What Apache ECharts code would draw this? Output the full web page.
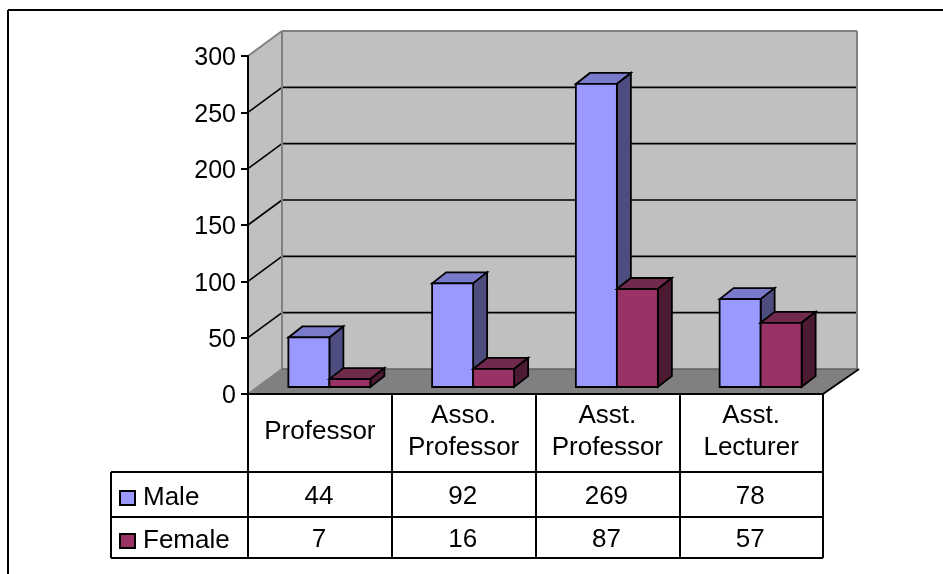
<!DOCTYPE html>
<html><head><meta charset="utf-8">
<style>html,body{margin:0;padding:0;background:#fff}#c{width:943px;height:574px}</style>
<script src="https://cdn.jsdelivr.net/npm/echarts@6/dist/echarts.min.js"></script>
</head><body><div id="c"></div>
<script>
const categories = ['Professor', 'Asso.\nProfessor', 'Asst.\nProfessor', 'Asst.\nLecturer'];
const male = [44, 92, 269, 78];
const female = [7, 16, 87, 57];
const yTicks = [0, 50, 100, 150, 200, 250, 300];

const FONT = '"Liberation Sans", Arial, sans-serif';
const FS = 26;
const BACK = [34, -25];      // wall depth
const FRONT = [9.5, -7];     // bar front-face offset from axis plane
const DEPTH = [14, -11];     // bar depth
const BW = 41;
const G = {left: 248, top: 56, width: 575, height: 338};
const TBL = {l: 111, r: 823, y0: 394, y1: 472, y2: 517, y3: 558};

function poly(points, fill, stroke, lw) {
  return {type: 'polygon', shape: {points}, style: {fill, stroke: stroke || 'none', lineWidth: lw === undefined ? 2 : lw, lineJoin: 'miter'}};
}
function seg(x1, y1, x2, y2, stroke, lw) {
  return {type: 'line', shape: {x1, y1, x2, y2}, style: {stroke, lineWidth: lw}};
}

function renderBackdrop(params, api) {
  const o = api.coord([0, 0]);
  const band = api.size([1, 0])[0];
  const x0 = o[0] - band / 2;
  const x1 = x0 + band * 4;
  const y0 = o[1];
  const yT = api.coord([0, 300])[1];
  const [dx, dy] = BACK;
  const kids = [];
  kids.push(poly([[x0, y0], [x0 + dx, y0 + dy], [x1 + dx, y0 + dy], [x1, y0]], '#808080'));
  kids.push(poly([[x0, yT], [x0 + dx, yT + dy], [x0 + dx, y0 + dy], [x0, y0]], '#C0C0C0'));
  kids.push(poly([[x0 + dx, yT + dy], [x1 + dx, yT + dy], [x1 + dx, y0 + dy], [x0 + dx, y0 + dy]], '#C0C0C0'));
  yTicks.forEach(t => {
    if (t === 0 || t === 300) return;
    const y = api.coord([0, t])[1];
    kids.push(seg(x0, y, x0 + dx, y + dy, '#000', 1.6));
    kids.push(seg(x0 + dx, y + dy, x1 + dx, y + dy, '#000', 1.6));
  });
  kids.push(seg(x0, yT, x0 + dx, yT + dy, '#808080', 2));
  kids.push(seg(x0 + dx, yT + dy, x1 + dx, yT + dy, '#808080', 2));
  kids.push(seg(x0 + dx, yT + dy, x0 + dx, y0 + dy, '#808080', 2));
  kids.push(seg(x1 + dx, yT + dy, x1 + dx, y0 + dy, '#808080', 2));
  kids.push(seg(x0 + dx, y0 + dy, x1 + dx, y0 + dy, '#606060', 1.6));
  kids.push(seg(x0, y0, x0 + dx, y0 + dy, '#808080', 1.6));
  kids.push(seg(x1, y0, x1 + dx + 2, y0 + dy, '#000', 2));
  return {type: 'group', children: kids};
}

function barRenderer(side, front, top, right) {
  return function (params, api) {
    const i = api.value(0), v = api.value(1);
    const c = api.coord([i, v]);
    const b = api.coord([i, 0]);
    const xl = c[0] + (side < 0 ? -BW : 0) + FRONT[0];
    const xr = xl + BW;
    const yt = c[1] + FRONT[1];
    const yb = b[1] + FRONT[1];
    const [dx, dy] = DEPTH;
    return {type: 'group', children: [
      poly([[xl, yt], [xl + dx, yt + dy], [xr + dx, yt + dy], [xr, yt]], top, '#000', 1.8),
      poly([[xr, yt], [xr + dx, yt + dy], [xr + dx, yb + dy], [xr, yb]], right, '#000', 1.8),
      poly([[xl, yt], [xr, yt], [xr, yb], [xl, yb]], front, '#000', 1.8)
    ]};
  };
}

function renderTable(params, api) {
  const i = api.value(0);
  const cx = api.coord([i, 0])[0] - 1;
  const txt = (s, y) => ({type: 'text', style: {text: String(s), x: cx, y, fill: '#000', font: FS + 'px ' + FONT, textAlign: 'center', textVerticalAlign: 'middle'}});
  return {type: 'group', children: [txt(male[i], (TBL.y1 + TBL.y2) / 2 + 2), txt(female[i], (TBL.y2 + TBL.y3) / 2 + 2)]};
}

const lines = [
  [8, 10, 943, 10], [8, 10, 8, 574],
  [TBL.l, TBL.y1, TBL.r, TBL.y1], [TBL.l, TBL.y2, TBL.r, TBL.y2], [TBL.l, TBL.y3, TBL.r, TBL.y3],
  [TBL.l, TBL.y1, TBL.l, TBL.y3], [G.left, TBL.y0, G.left, TBL.y3], [392, TBL.y0, 392, TBL.y3],
  [536, TBL.y0, 536, TBL.y3], [680, TBL.y0, 680, TBL.y3], [823, TBL.y0, 823, TBL.y3]
];

const chart = echarts.init(document.getElementById('c'), null, {renderer: 'canvas'});
chart.setOption({
  animation: false,
  backgroundColor: '#fff',
  textStyle: {fontFamily: FONT},
  grid: {left: G.left, top: G.top, width: G.width, height: G.height, containLabel: false},
  xAxis: {
    type: 'category', data: categories,
    axisLine: {show: true, onZero: false, lineStyle: {color: '#000', width: 2}},
    axisTick: {show: false},
    axisLabel: {interval: 0, color: '#000', fontSize: FS, fontFamily: FONT, lineHeight: 32, verticalAlign: 'middle', margin: 38, hideOverlap: false},
    splitLine: {show: false}, z: 5
  },
  yAxis: {
    type: 'value', min: 0, max: 300, interval: 50,
    axisLine: {show: true, lineStyle: {color: '#000', width: 2}},
    axisTick: {show: true, length: 7, lineStyle: {color: '#000', width: 2}},
    axisLabel: {
      color: '#000', fontSize: 25, fontFamily: FONT, margin: 12,
      formatter: v => '{a|' + v + '}',
      rich: {a: {color: '#000', fontSize: 25, fontFamily: FONT, padding: [5, 0, 0, 0]}}
    },
    splitLine: {show: false}, z: 5
  },
  legend: {
    show: true, orient: 'vertical', left: 119, top: 485, itemGap: 17,
    itemWidth: 15, itemHeight: 14, icon: 'rect', padding: 0,
    data: ['Male', 'Female'], selectedMode: false,
    textStyle: {color: '#000', fontSize: FS, fontFamily: FONT, padding: [2, 0, 0, 3]},
    itemStyle: {borderColor: '#000', borderWidth: 2}
  },
  graphic: lines.map(l => ({type: 'line', silent: true, z: 6, shape: {x1: l[0], y1: l[1], x2: l[2], y2: l[3]}, style: {stroke: '#000', lineWidth: 2}})),
  series: [
    {name: 'wall', type: 'custom', silent: true, clip: false, z: 1, data: [[0, 0]], encode: {x: 0, y: 1}, renderItem: renderBackdrop},
    {name: 'Male', type: 'custom', clip: false, z: 2, itemStyle: {color: '#9999FF'}, encode: {x: 0, y: 1},
      data: male.map((v, i) => [i, v]), renderItem: barRenderer(-1, '#9999FF', '#7A7ACC', '#4D4D80')},
    {name: 'Female', type: 'custom', clip: false, z: 3, itemStyle: {color: '#993366'}, encode: {x: 0, y: 1},
      data: female.map((v, i) => [i, v]), renderItem: barRenderer(1, '#993366', '#702A4D', '#4D1A33')},
    {name: 'table', type: 'custom', silent: true, clip: false, z: 7, encode: {x: 0, y: 1},
      data: categories.map((c, i) => [i, 0]), renderItem: renderTable}
  ]
});
</script></body></html>
